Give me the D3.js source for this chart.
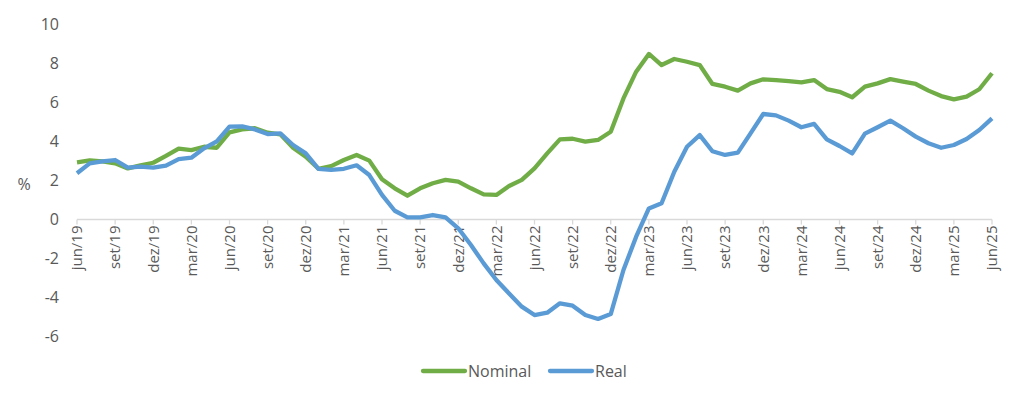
<html>
<head>
<meta charset="utf-8" />
<title>Nominal e Real</title>
<script src="https://cdn.jsdelivr.net/npm/d3@7"></script>
<style>
body { margin: 0; background: #fff; }
text { font-family: "Open Sans", sans-serif; fill: #595959; }
</style>
</head>
<body>
<script>
// monthly, jun/19 .. jun/25
var months = ["jan","fev","mar","abr","mai","jun","jul","ago","set","out","nov","dez"];
var nominal = [2.93,3.03,2.98,2.88,2.62,2.78,2.91,3.26,3.63,3.56,3.73,3.68,
  4.47,4.62,4.68,4.45,4.37,3.68,3.22,2.6,2.74,3.05,3.31,3.02,
  2.06,1.6,1.22,1.6,1.86,2.03,1.94,1.6,1.29,1.26,1.72,2.03,
  2.62,3.39,4.11,4.14,3.99,4.08,4.5,6.21,7.58,8.49,7.92,8.23,
  8.09,7.92,6.95,6.81,6.61,6.98,7.19,7.15,7.1,7.03,7.15,6.69,
  6.55,6.27,6.81,6.98,7.2,7.07,6.95,6.61,6.33,6.16,6.3,6.68,7.5];
var real = [2.37,2.88,2.98,3.05,2.66,2.71,2.66,2.76,3.1,3.17,3.65,4.01,
  4.76,4.78,4.62,4.38,4.42,3.82,3.39,2.6,2.54,2.6,2.78,2.28,
  1.26,0.45,0.11,0.11,0.23,0.11,-0.45,-1.31,-2.25,-3.1,-3.79,-4.47,
  -4.9,-4.78,-4.3,-4.42,-4.9,-5.1,-4.85,-2.59,-0.88,0.57,0.83,2.45,
  3.73,4.33,3.5,3.31,3.43,4.42,5.41,5.34,5.07,4.73,4.9,4.11,
  3.77,3.39,4.4,4.73,5.07,4.68,4.25,3.91,3.68,3.82,4.13,4.59,5.19];
var yTicks = [-6,-4,-2,0,2,4,6,8,10];

var labels = nominal.map(function(d,i){
  var m = (5+i)%12, y = 19+Math.floor((5+i)/12);
  return months[m]+"/"+y;
});

var W = 1017, H = 398;
var svg = d3.select("body").append("svg").attr("width",W).attr("height",H);

var x = d3.scalePoint().domain(labels).range([77,992]);
var y = d3.scaleLinear().domain([-6,10]).range([336.5,24.5]);

// y labels
svg.append("g").selectAll("text").data(yTicks).enter().append("text")
  .attr("x",59).attr("y",d=>y(d)).attr("dy","0.35em")
  .attr("text-anchor","end").attr("font-size","16px").text(d=>d);
svg.append("text").attr("x",24).attr("y",184).attr("dy","0.35em")
  .attr("text-anchor","middle").attr("font-size","16px").text("%");

// x axis at zero
var tickLabels = labels.filter((d,i)=>i%3==0);
svg.append("line").attr("x1",77).attr("x2",992).attr("y1",y(0)).attr("y2",y(0))
  .attr("stroke","#d9d9d9").attr("stroke-width",1.3);
svg.append("g").selectAll("line").data(tickLabels).enter().append("line")
  .attr("x1",d=>x(d)).attr("x2",d=>x(d)).attr("y1",y(0)).attr("y2",y(0)+5)
  .attr("stroke","#d9d9d9").attr("stroke-width",1.3);
svg.append("g").selectAll("text").data(tickLabels).enter().append("text")
  .attr("transform",d=>"translate("+x(d)+","+(y(0)+6)+") rotate(-90)")
  .attr("dy","0.35em").attr("text-anchor","end").attr("font-size","15px").text(d=>d);

var line = d3.line().x((d,i)=>x(labels[i])).y(d=>y(d));
svg.append("path").datum(nominal).attr("d",line).attr("fill","none")
  .attr("stroke","#70ad47").attr("stroke-width",4.3).attr("stroke-linejoin","round");
svg.append("path").datum(real).attr("d",line).attr("fill","none")
  .attr("stroke","#5b9bd5").attr("stroke-width",4.3).attr("stroke-linejoin","round");

// legend
var legend = [["Nominal","#70ad47",423],["Real","#5b9bd5",550]];
legend.forEach(function(l){
  svg.append("line").attr("x1",l[2]).attr("x2",l[2]+42).attr("y1",371).attr("y2",371)
    .attr("stroke",l[1]).attr("stroke-width",4.3).attr("stroke-linecap","round");
  svg.append("text").attr("x",l[2]+45).attr("y",371).attr("dy","0.35em")
    .attr("font-size","16px").text(l[0]);
});
</script>
</body>
</html>
